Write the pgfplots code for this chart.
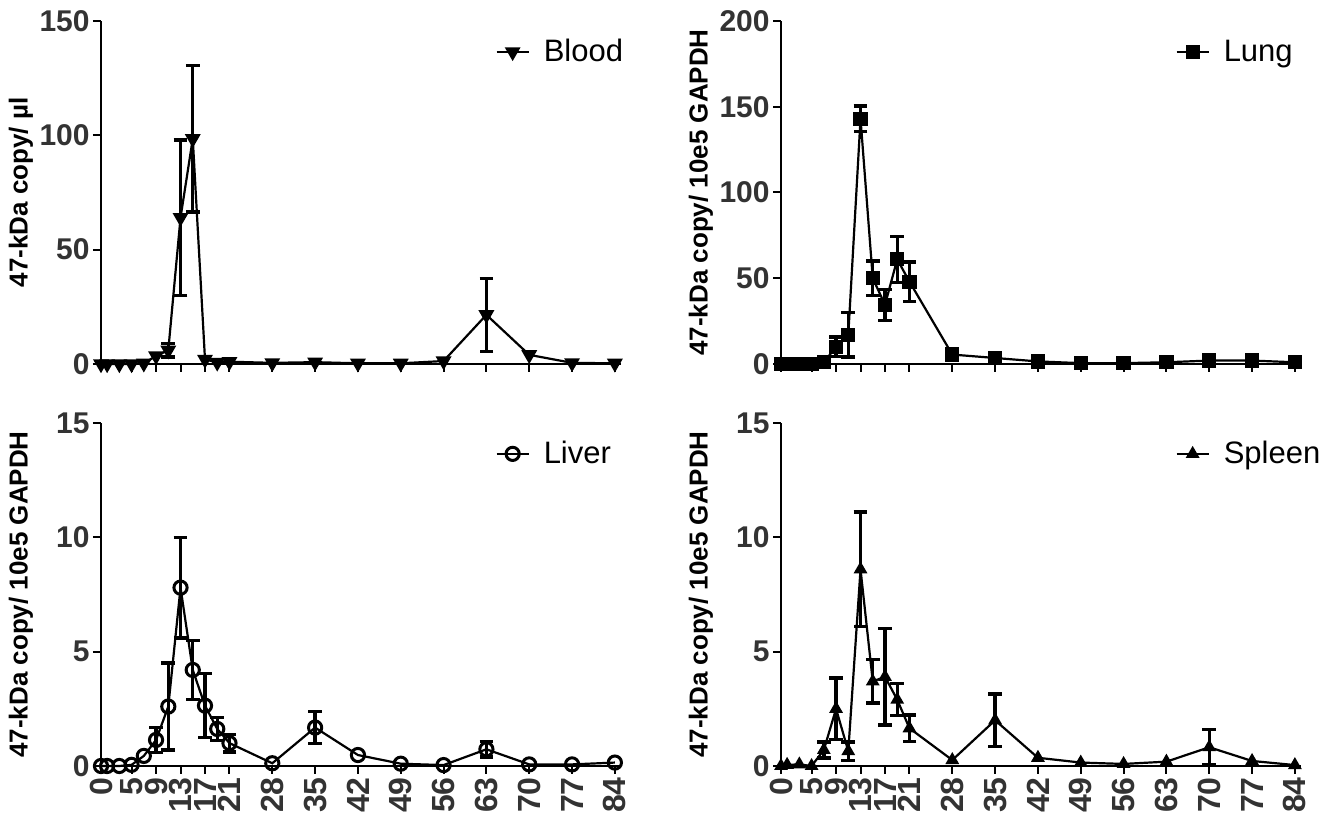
\documentclass[border=0pt]{standalone}
\usepackage{fontspec}
\setmainfont{Liberation Sans}
\usepackage{pgfplots}
\usepackage{pgfplotstable}
\pgfplotsset{compat=1.18}

% day, mean, SD
\pgfplotstableread{
x  y     ey
0  0     0
1  0     0
3  0     0
5  0     0
7  0.3   0
9  3.5   0
11 6     3
13 64    34
15 98.5  32
17 2     0
19 0.7   0
21 1     0
28 0.5   0
35 0.8   0
42 0.3   0
49 0.3   0
56 1.3   0
63 21.5  16
70 4     0
77 0.5   0
84 0.3   0
}\blood

\pgfplotstableread{
x  y     ey
0  0     0
1  0     0
3  0     0
5  0     0
7  1     0
9  10    5.8
11 17    13
13 143   7.5
15 50    10
17 34.5  9
19 61    13.5
21 48    11.5
28 5.5   3.5
35 3.5   0
42 1.5   0
49 0.5   0
56 0.5   0
63 1     0
70 2     0
77 2     0
84 1     0
}\lung

\pgfplotstableread{
x  y     ey
0  0     0
1  0     0
3  0     0
5  0.05  0
7  0.44  0
9  1.14  0.55
11 2.6   1.9
13 7.8   2.2
15 4.2   1.3
17 2.64  1.4
19 1.62  0.5
21 1.0   0.38
28 0.12  0
35 1.68  0.7
42 0.48  0
49 0.1   0
56 0.04  0
63 0.73  0.33
70 0.07  0
77 0.07  0
84 0.15  0
}\liver

\pgfplotstableread{
x  y     ey
0  0     0
1  0.05  0
3  0.07  0
5  0     0
7  0.7   0.35
9  2.5   1.35
11 0.65  0.4
13 8.6   2.5
15 3.7   0.95
17 3.9   2.1
19 2.9   0.7
21 1.65  0.58
28 0.26  0
35 2.0   1.15
42 0.36  0
49 0.15  0
56 0.09  0
63 0.19  0
70 0.82  0.78
77 0.22  0
84 0.04  0
}\spleen

\pgfplotsset{
  organ/.style={
    scale only axis, width=260pt, height=171.5pt,
    axis lines=left, axis line style={-, line width=1pt},
    xmin=0, xmax=85, ymin=0,
    xtick={0,5,9,13,17,21,28,35,42,49,56,63,70,77,84},
    tick align=outside, major tick length=4pt,
    tick style={line width=1pt, black},
    clip=false,
    /pgf/number format/assume math mode=true,
    yticklabel style={font=\fontsize{15}{15}\selectfont\bfseries, text=black!80, inner sep=1.5pt},
    xticklabel style={font=\fontsize{16}{16}\selectfont\bfseries, text=black!80, rotate=90, anchor=east, inner sep=1.5pt},
    ylabel style={font=\fontsize{13}{13}\selectfont\bfseries, at={(axis description cs:-0.154,0.5)}, anchor=center},
    legend style={at={(axis description cs:0.758,0.91)}, anchor=west, draw=none, fill=none, inner sep=0pt, font=\fontsize{15.5}{15.5}\selectfont},
    legend image code/.code={\draw[mark repeat=2,mark phase=2,##1] plot coordinates {(0pt,0pt) (8pt,0pt) (16pt,0pt)}; \path (21pt,0pt);},
  },
  ebar/.style={draw=none, mark=none, forget plot,
    restrict expr to domain={\thisrow{ey}}{0.01:1000},
    error bars/.cd, y dir=both, y explicit,
    error mark=|,
    error bar style={draw=black, line width=1.7pt},
    error mark options={draw=black, line width=1.7pt, mark size=3.4pt}},
  ser/.style={black, line width=1.1pt},
}

\begin{document}
\begin{tikzpicture}
\path[use as bounding box] (0,0) rectangle (667.5pt,407pt);

\begin{axis}[organ, at={(50.5pt,225pt)}, anchor=south west,
  ymax=150, ytick={0,50,100,150}, xticklabels={},
  ylabel={47-kDa copy/ µl}]
\addplot[ebar] table[x=x, y=y, y error=ey] {\blood};
\addplot[ser, mark=triangle*, mark size=3.5pt, mark options={rotate=180}] table[x=x, y=y] {\blood};
\legend{Blood}
\end{axis}

\begin{axis}[organ, at={(390.5pt,225pt)}, anchor=south west,
  ymax=200, ytick={0,50,100,150,200}, xticklabels={},
  ylabel={47-kDa copy/ 10e5 GAPDH}]
\addplot[ebar] table[x=x, y=y, y error=ey] {\lung};
\addplot[ser, mark=square*, mark size=3pt] table[x=x, y=y] {\lung};
\legend{Lung}
\end{axis}

\begin{axis}[organ, at={(50.5pt,24pt)}, anchor=south west,
  ymax=15, ytick={0,5,10,15},
  ylabel={47-kDa copy/ 10e5 GAPDH}]
\addplot[ebar] table[x=x, y=y, y error=ey] {\liver};
\addplot[ser, mark=o, mark size=3.3pt, mark options={line width=1.5pt}] table[x=x, y=y] {\liver};
\legend{Liver}
\end{axis}

\begin{axis}[organ, at={(390.5pt,24pt)}, anchor=south west,
  ymax=15, ytick={0,5,10,15},
  ylabel={47-kDa copy/ 10e5 GAPDH}]
\addplot[ebar] table[x=x, y=y, y error=ey] {\spleen};
\addplot[ser, mark=triangle*, mark size=2.9pt] table[x=x, y=y] {\spleen};
\legend{Spleen}
\end{axis}
\end{tikzpicture}
\end{document}
